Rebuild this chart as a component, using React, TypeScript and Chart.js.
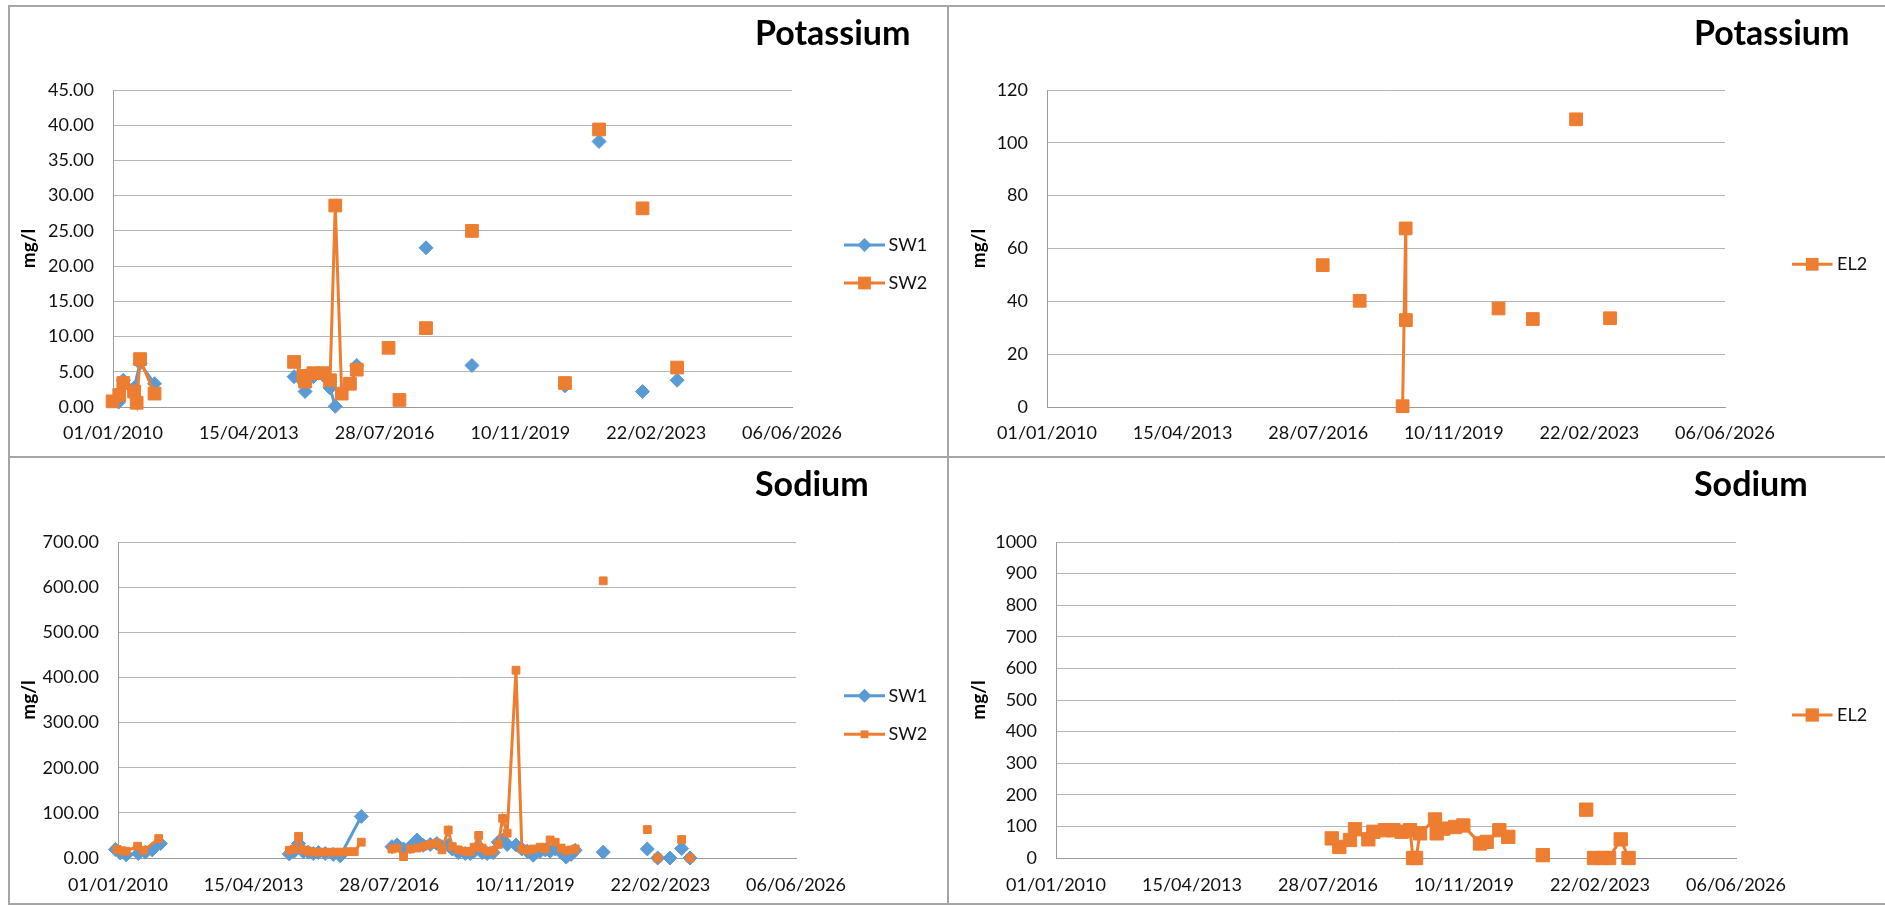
import React, { useEffect, useRef } from 'react';
import { Chart, registerables } from 'chart.js';

Chart.register(...registerables);
Chart.defaults.font.family = 'Lato';

const BLUE = '#5B9BD5';
const ORANGE = '#ED7D31';

// ---- shared x axis (date axis, dd/mm/yyyy) ----
const X_TICK_DATES = ['2010-01-01', '2013-04-15', '2016-07-28', '2019-11-10', '2023-02-22', '2026-06-06'];

// ---- Potassium: SW1 / SW2 ----
const K_SW1_DATES = [
  '2010-02-20', '2010-04-02', '2010-07-06', '2010-08-28', '2011-01-03', '2012-06-01',
  '2014-05-20', '2014-08-25', '2014-11-06', '2015-02-02', '2015-04-03', '2015-05-19', '2015-08-01',
  '2015-11-25', '2016-06-01', '2017-07-29', '2018-01-01', '2018-09-08', '2019-06-01',
  '2020-12-08', '2021-05-01', '2021-10-05', '2022-04-01', '2022-10-24', '2023-03-01', '2023-08-26',
];
const K_SW1 = [
  0.7, 3.8, 2.7, 6.2, 3.3, null,
  4.3, 2.2, 4.3, 4.5, 2.7, 0.1, null,
  5.9, null, 22.6, null, 5.9, null,
  3.0, null, 37.7, null, 2.2, null, 3.8,
];
const K_SW2_DATES = [
  '2009-12-28', '2010-02-25', '2010-04-02', '2010-07-06', '2010-07-29', '2010-08-28', '2011-01-03', '2012-06-01',
  '2014-05-20', '2014-08-10', '2014-08-25', '2014-11-06', '2015-02-02', '2015-04-03', '2015-05-19',
  '2015-07-15', '2015-09-26', '2015-11-25', '2016-04-01',
  '2016-09-01', '2016-10-15', '2016-12-06', '2017-03-01', '2017-07-29', '2018-01-01', '2018-09-08', '2019-06-01',
  '2020-12-08', '2021-05-01', '2021-10-05', '2022-04-01', '2022-10-24', '2023-03-01', '2023-08-26',
];
const K_SW2 = [
  0.8, 1.7, 3.4, 2.2, 0.6, 6.8, 1.9, null,
  6.4, 4.4, 3.6, 4.8, 4.8, 3.8, 28.6,
  1.9, 3.3, 5.3, null,
  8.4, null, 1.0, null, 11.2, null, 25.0, null,
  3.4, null, 39.4, null, 28.2, null, 5.6,
];

// ---- Potassium: EL2 ----
const K_EL2_DATES = [
  '2016-09-06', '2017-02-01', '2017-07-30', '2018-02-01', '2018-08-14', '2018-09-10', '2018-09-12', '2019-06-01',
  '2020-12-10', '2021-05-01', '2021-10-09', '2022-04-01', '2022-10-27', '2023-03-01', '2023-08-24',
];
const K_EL2 = [
  53.7, null, 40.2, null, 0.3, 67.6, 32.9, null,
  37.3, null, 33.3, null, 108.9, null, 33.6,
];

// ---- Sodium: SW1 / SW2 ----
const NA_2016_2021_DATES = [
  '2016-08-21', '2016-10-05', '2016-12-02', '2017-01-30', '2017-03-31', '2017-05-25', '2017-07-26',
  '2017-09-23', '2017-11-07', '2018-01-01', '2018-02-06', '2018-03-31', '2018-06-01', '2018-07-15',
  '2018-08-19', '2018-09-28', '2018-10-29', '2018-12-12', '2019-02-03', '2019-03-20', '2019-04-28',
  '2019-06-07', '2019-08-24', '2019-10-15', '2019-12-01', '2020-01-23', '2020-03-25', '2020-05-09',
  '2020-06-21', '2020-08-05', '2020-09-27', '2020-11-10', '2020-12-24', '2021-01-29',
];
const NA_SW1_2016_2021 = [
  25, 29, 20, 25, 40, 28, 30, 32, 25, 28, 20, 12, 10, 10, 15, 25, 12,
  10, 12, 35, 40, 30, 29, 20, 15, 6, 15, 18, 15, 20, 12, 2, 8, 17,
];
const NA_SW2_2016_2021 = [
  20, 22, 3, 20, 22, 26, 30, 33, 18, 62, 25, 18, 15, 14, 24, 50, 22,
  15, 16, 30, 88, 55, 416, 20, 17, 20, 24, 20, 40, 35, 22, 16, 18, 20,
];
const NA_SW1_DATES = [
  '2009-12-09', '2010-01-22', '2010-03-14', '2010-06-30', '2010-08-31', '2010-10-30', '2011-01-11', '2012-06-01',
  '2014-02-25', '2014-04-10', '2014-05-18', '2014-06-29', '2014-08-12', '2014-09-25', '2014-11-09',
  '2015-01-09', '2015-03-21', '2015-05-22', '2015-11-24', '2016-04-01',
  ...NA_2016_2021_DATES,
  '2021-05-01', '2021-10-04', '2022-04-01', '2022-10-29', '2022-12-15', '2023-01-29', '2023-04-01',
  '2023-05-18', '2023-07-01', '2023-08-29', '2023-10-01', '2023-11-11',
];
const NA_SW1 = [
  19, 11, 7, 10, 13, 18, 32, null,
  9, 15, 32, 14, 13, 10, 12,
  10, 8, 5, 92, null,
  ...NA_SW1_2016_2021,
  null, 13, null, 20, null, 0, null,
  0, null, 21, null, 0,
];
const NA_SW2_DATES = [
  '2009-12-24', '2010-02-06', '2010-03-14', '2010-06-24', '2010-08-16', '2010-12-27', '2012-06-01',
  '2014-02-25', '2014-04-10', '2014-05-18', '2014-06-29', '2014-08-12', '2014-09-25', '2014-11-09',
  '2015-01-09', '2015-03-21', '2015-05-22', '2015-07-23', '2015-09-23', '2015-11-24', '2016-04-01',
  ...NA_2016_2021_DATES,
  '2021-05-01', '2021-10-04', '2022-04-01', '2022-10-29', '2022-12-15', '2023-01-29', '2023-05-01',
  '2023-08-29', '2023-10-01', '2023-11-11',
];
const NA_SW2 = [
  19, 16, 15, 26, 17, 43, null,
  17, 20, 48, 18, 15, 13, 13,
  13, 13, 13, 14, 14, 35, null,
  ...NA_SW2_2016_2021,
  null, 614, null, 63, null, 0, null,
  41, null, 0,
];

// ---- Sodium: EL2 ----
const NA_EL2_DATES = [
  '2016-08-30', '2016-11-05', '2017-02-07', '2017-03-23', '2017-07-19', '2017-09-01', '2017-12-13',
  '2018-02-24', '2018-05-09', '2018-07-22', '2018-08-17', '2018-09-13', '2018-10-18', '2019-02-27',
  '2019-03-14', '2019-05-12', '2019-08-23', '2019-11-04', '2020-03-30', '2020-05-28', '2020-09-17',
  '2020-12-05', '2021-05-01', '2021-10-05', '2022-04-01', '2022-10-23', '2022-11-20', '2022-12-31',
  '2023-03-21', '2023-05-13', '2023-08-24', '2023-11-01',
];
const NA_EL2 = [
  62, 35, 57, 91, 59, 83, 88,
  88, 83, 88, 0, 0, 78, 122,
  78, 93, 98, 103, 46, 51, 88,
  67, null, 9, null, 153, null, 0,
  0, 0, 59, 0,
];

// ---- y axis ranges ----
const K_SW_Y = { max: 45, step: 5, decimals: 2 };
const K_EL2_Y = { max: 120, step: 20, decimals: 0 };
const NA_SW_Y = { max: 700, step: 100, decimals: 2 };
const NA_EL2_Y = { max: 1000, step: 100, decimals: 0 };

// ---------------------------------------------------------------
const toSerial = (d: string) => {
  const [y, m, dd] = d.split('-').map(Number);
  return Math.round((Date.UTC(y, m - 1, dd) - Date.UTC(1899, 11, 30)) / 86400000);
};
const fmtSerial = (v: number) => {
  const dt = new Date(Date.UTC(1899, 11, 30) + v * 86400000);
  const p = (n: number) => String(n).padStart(2, '0');
  return `${p(dt.getUTCDate())}/${p(dt.getUTCMonth() + 1)}/${dt.getUTCFullYear()}`;
};
const X_TICKS = X_TICK_DATES.map(toSerial);

const GRID = '#b4b4b4';
const AXIS = '#9a9a9a';
const TEXT = '#111';

const panelDecor = {
  id: 'panelDecor',
  afterDraw(chart: any, _a: any, opts: any) {
    const { ctx } = chart;
    ctx.save();
    ctx.fillStyle = '#000';
    ctx.font = 'bold 34px Lato';
    ctx.textAlign = 'left';
    ctx.textBaseline = 'alphabetic';
    ctx.fillText(opts.title, opts.titleX, opts.titleY);
    chart.data.datasets.forEach((ds: any, i: number) => {
      const y = opts.legendY[i];
      ctx.strokeStyle = ds.borderColor;
      ctx.lineWidth = 3;
      ctx.beginPath();
      ctx.moveTo(opts.lineX1, y);
      ctx.lineTo(opts.lineX2, y);
      ctx.stroke();
      const cx = (opts.lineX1 + opts.lineX2) / 2;
      ctx.fillStyle = ds.backgroundColor;
      ctx.beginPath();
      const r = ds.pointRadius;
      if (ds.pointStyle === 'rect') {
        const s = r * Math.SQRT1_2;
        ctx.rect(cx - s, y - s, 2 * s, 2 * s);
      } else {
        ctx.moveTo(cx - r, y);
        ctx.lineTo(cx, y - r);
        ctx.lineTo(cx + r, y);
        ctx.lineTo(cx, y + r);
        ctx.closePath();
      }
      ctx.fill();
      ctx.fillStyle = TEXT;
      ctx.font = '18px Lato';
      ctx.textBaseline = 'middle';
      ctx.fillText(ds.label, opts.textX, y);
    });
    ctx.restore();
  },
};

type Series = { label: string; dates: string[]; values: (number | null)[]; color: string; style: string; radius: number; order: number };
type PanelSpec = {
  left: number; top: number; width: number; height: number;
  yWidth: number; padTop: number; padRight: number; xHeight: number; xPad: number; yTitlePad: number;
  yr: { max: number; step: number; decimals: number };
  title: string; titleX: number; titleY: number;
  lineX1: number; lineX2: number; textX: number; legendY: number[];
  series: Series[];
};

function makeConfig(p: PanelSpec): any {
  return {
    type: 'line',
    data: {
      datasets: p.series.map((s) => ({
        label: s.label,
        data: s.dates.map((d, i) => ({ x: toSerial(d), y: s.values[i] })),
        borderColor: s.color,
        backgroundColor: s.color,
        borderWidth: 3,
        pointStyle: s.style,
        pointRadius: s.radius,
        pointHoverRadius: s.radius,
        pointBorderWidth: 1,
        order: s.order,
        clip: false,
        tension: 0,
        spanGaps: false,
      })),
    },
    options: {
      animation: false,
      responsive: false,
      events: [],
      layout: { padding: { left: 0, top: p.padTop, right: p.padRight, bottom: 0 } },
      plugins: {
        legend: { display: false },
        title: { display: false },
        tooltip: { enabled: false },
        panelDecor: {
          title: p.title, titleX: p.titleX, titleY: p.titleY,
          lineX1: p.lineX1, lineX2: p.lineX2, textX: p.textX, legendY: p.legendY,
        },
      },
      scales: {
        x: {
          type: 'linear',
          min: X_TICKS[0],
          max: X_TICKS[X_TICKS.length - 1],
          afterBuildTicks: (sc: any) => { sc.ticks = X_TICKS.map((v) => ({ value: v })); },
          afterFit: (sc: any) => { sc.height = p.xHeight; },
          ticks: {
            callback: (v: any) => fmtSerial(Number(v)),
            autoSkip: false, maxRotation: 0, minRotation: 0,
            padding: p.xPad, color: TEXT, font: { size: 18 },
          },
          grid: { display: false, drawTicks: false },
          border: { display: true, color: AXIS, width: 1 },
        },
        y: {
          min: 0,
          max: p.yr.max,
          afterFit: (sc: any) => { sc.width = p.yWidth; },
          ticks: {
            stepSize: p.yr.step,
            callback: (v: any) => Number(v).toFixed(p.yr.decimals),
            padding: 19, color: TEXT, font: { size: 18 },
          },
          grid: { color: GRID, lineWidth: 1, drawTicks: false },
          border: { display: true, color: AXIS, width: 1 },
          title: {
            display: true, text: 'mg/l', color: '#000',
            font: { size: 19, weight: 'bold' },
            padding: { top: p.yTitlePad, bottom: 0 },
          },
        },
      },
    },
    plugins: [panelDecor],
  };
}

function Panel({ spec }: { spec: PanelSpec }) {
  const ref = useRef<HTMLCanvasElement>(null);
  useEffect(() => {
    const chart = new Chart(ref.current as HTMLCanvasElement, makeConfig(spec));
    return () => chart.destroy();
  }, []);
  return (
    <canvas
      ref={ref}
      width={spec.width}
      height={spec.height}
      style={{ position: 'absolute', left: spec.left, top: spec.top, width: spec.width, height: spec.height }}
    />
  );
}

const PANELS: PanelSpec[] = [
  {
    left: 9, top: 6, width: 939, height: 451,
    yWidth: 104, padTop: 84, padRight: 156, xHeight: 50, xPad: 15, yTitlePad: 8,
    yr: K_SW_Y, title: 'Potassium', titleX: 746, titleY: 39,
    lineX1: 835, lineX2: 876, textX: 879.5, legendY: [239, 277],
    series: [
      { label: 'SW1', dates: K_SW1_DATES, values: K_SW1, color: BLUE, style: 'rectRot', radius: 7, order: 1 },
      { label: 'SW2', dates: K_SW2_DATES, values: K_SW2, color: ORANGE, style: 'rect', radius: 9, order: 0 },
    ],
  },
  {
    left: 948, top: 6, width: 937, height: 451,
    yWidth: 99, padTop: 84, padRight: 160, xHeight: 50, xPad: 15, yTitlePad: 19.5,
    yr: K_EL2_Y, title: 'Potassium', titleX: 746, titleY: 39,
    lineX1: 844, lineX2: 884.5, textX: 889, legendY: [258.3],
    series: [
      { label: 'EL2', dates: K_EL2_DATES, values: K_EL2, color: ORANGE, style: 'rect', radius: 9, order: 0 },
    ],
  },
  {
    left: 9, top: 457, width: 939, height: 447,
    yWidth: 109, padTop: 85, padRight: 152, xHeight: 46, xPad: 16, yTitlePad: 8,
    yr: NA_SW_Y, title: 'Sodium', titleX: 746, titleY: 39,
    lineX1: 835, lineX2: 876, textX: 879.5, legendY: [238.7, 277.3],
    series: [
      { label: 'SW1', dates: NA_SW1_DATES, values: NA_SW1, color: BLUE, style: 'rectRot', radius: 7, order: 1 },
      { label: 'SW2', dates: NA_SW2_DATES, values: NA_SW2, color: ORANGE, style: 'rect', radius: 5.5, order: 0 },
    ],
  },
  {
    left: 948, top: 457, width: 937, height: 447,
    yWidth: 108, padTop: 85, padRight: 149, xHeight: 46, xPad: 16, yTitlePad: 19,
    yr: NA_EL2_Y, title: 'Sodium', titleX: 746, titleY: 39,
    lineX1: 844, lineX2: 884.5, textX: 889, legendY: [258],
    series: [
      { label: 'EL2', dates: NA_EL2_DATES, values: NA_EL2, color: ORANGE, style: 'rect', radius: 9.4, order: 0 },
    ],
  },
];

const BORDER = '#a6a6a6';
const line = (left: number, top: number, width: number, height: number) => (
  <div style={{ position: 'absolute', left, top, width, height, background: BORDER }} />
);

export default function App() {
  return (
    <div style={{ position: 'fixed', left: 0, top: 0, width: 1885, height: 906, background: '#fff', overflow: 'hidden' }}>
      {PANELS.map((p, i) => <Panel key={i} spec={p} />)}
      {line(8, 5, 1877, 2)}
      {line(8, 5, 2, 900)}
      {line(947, 5, 2, 900)}
      {line(8, 456, 1877, 2)}
      {line(8, 903, 1877, 2)}
    </div>
  );
}
